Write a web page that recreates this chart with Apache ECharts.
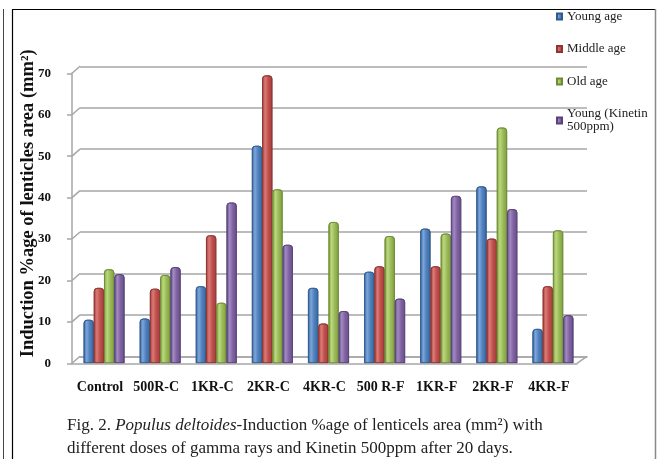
<!DOCTYPE html>
<html>
<head>
<meta charset="utf-8">
<script src="https://cdn.jsdelivr.net/npm/echarts@6/dist/echarts.min.js"></script>
<style>
html,body{margin:0;padding:0;background:#fff;}
#chart{width:658px;height:459px;}
</style>
</head>
<body>
<div id="chart"></div>
<script>
const categories = ['Control', '500R-C', '1KR-C', '2KR-C', '4KR-C', '500 R-F', '1KR-F', '2KR-F', '4KR-F'];
const seriesNames = ['Young age', 'Middle age', 'Old age', 'Young (Kinetin 500ppm)'];
const youngAge     = [10.5, 10.8, 18.6, 52.5, 18.2, 22.1, 32.5, 42.7, 8.3];
const middleAge    = [18.2, 18.0, 30.9, 69.5, 9.6, 23.4, 23.4, 30.1, 18.6];
const oldAge       = [22.7, 21.3, 14.6, 42.0, 34.1, 30.7, 31.3, 56.9, 32.1];
const youngKinetin = [21.5, 23.2, 38.8, 28.6, 12.6, 15.6, 40.4, 37.2, 11.6];
const yTickValues  = [0, 10, 20, 30, 40, 50, 60, 70];

const serif = '"Liberation Serif", "DejaVu Serif", serif';
const palette = [
  {base: '#4F81BD', light: '#7DA5DA', dark: '#3A679E', edge: '#2F5A8E'},
  {base: '#C0504D', light: '#DB7A76', dark: '#A03D3A', edge: '#8E3431'},
  {base: '#9BBB59', light: '#BCD87E', dark: '#7E9E40', edge: '#6E8C36'},
  {base: '#8064A2', light: '#A189C2', dark: '#664D88', edge: '#584279'}
];
const allData = [youngAge, middleAge, oldAge, youngKinetin];

const chart = echarts.init(document.getElementById('chart'), null, {renderer: 'canvas'});

const grids = [
  {left: 72, right: 81, top: 73.3, bottom: 95.7},   // front plane
  {left: 80, right: 71, top: 66.3, bottom: 102.7},  // back wall
  {left: 76, right: 77, top: 73.3, bottom: 95.7}    // bars (mid depth)
];

const option = {
  backgroundColor: '#ffffff',
  animation: false,
  title: {
    left: 67, top: 414, padding: 0,
    text: '{n|Fig. 2. }{i|Populus deltoides}{n|-Induction %age of lenticels area (mm²) with}\n{n|different doses of gamma rays and Kinetin 500ppm after 20 days.}',
    textStyle: {
      fontWeight: 'normal',
      rich: {
        n: {fontFamily: serif, fontSize: 17, fontWeight: 'normal', color: '#222', lineHeight: 23},
        i: {fontFamily: serif, fontSize: 17, fontWeight: 'normal', fontStyle: 'italic', color: '#222', lineHeight: 23}
      }
    }
  },
  legend: {
    orient: 'vertical',
    left: 551, top: 5,
    itemWidth: 5, itemHeight: 6,
    itemGap: 19.5,
    icon: 'rect',
    textStyle: {fontFamily: serif, fontSize: 13, color: '#222'},
    data: [
      {name: seriesNames[0]},
      {name: seriesNames[1]},
      {name: seriesNames[2]},
      {name: seriesNames[3], textStyle: {padding: [20, 0, 0, 0]}}
    ],
    formatter: function (name) {
      return name === seriesNames[3] ? 'Young (Kinetin\n500ppm)' : name;
    }
  },
  grid: grids,
  xAxis: [
    {
      type: 'category', gridIndex: 0, data: categories, z: 10,
      axisLine: {show: true, lineStyle: {color: '#a6a6a6', width: 1.5}},
      axisTick: {show: false},
      axisLabel: {fontFamily: serif, fontSize: 14, fontWeight: 'bold', color: '#111', margin: 17, interval: 0},
      splitLine: {show: false}
    },
    {
      type: 'category', gridIndex: 1, data: categories,
      axisLine: {show: true, lineStyle: {color: '#a6a6a6', width: 1.5}},
      axisTick: {show: false}, axisLabel: {show: false}, splitLine: {show: false}
    },
    {
      type: 'category', gridIndex: 2, data: categories, show: false
    }
  ],
  yAxis: [
    {
      type: 'value', gridIndex: 0, min: 0, max: 70, interval: 10, z: 10,
      name: 'Induction %age of lenticles area (mm²)',
      nameLocation: 'middle', nameGap: 34.5, nameRotate: 90,
      nameMoveOverlap: false,
      nameTextStyle: {fontFamily: serif, fontSize: 18.5, fontWeight: 'bold', color: '#111', padding: [0, 0, 0, 30]},
      axisLine: {show: true, lineStyle: {color: '#a6a6a6', width: 1.5}},
      axisTick: {show: true, length: 5, lineStyle: {color: '#a6a6a6', width: 1.5}},
      axisLabel: {fontFamily: serif, fontSize: 13, fontWeight: 'bold', color: '#111', margin: 21},
      splitLine: {show: false}
    },
    {
      type: 'value', gridIndex: 1, min: 0, max: 70, interval: 10,
      axisLine: {show: false}, axisTick: {show: false}, axisLabel: {show: false},
      splitLine: {show: true, lineStyle: {color: '#a6a6a6', width: 1.6}}
    },
    {
      type: 'value', gridIndex: 2, min: 0, max: 70, interval: 10, show: false,
      splitLine: {show: false}
    }
  ],
  series: allData.map(function (data, i) {
    const c = palette[i];
    return {
      name: seriesNames[i],
      type: 'bar',
      xAxisIndex: 2, yAxisIndex: 2,
      data: data,
      barGap: '0%',
      barCategoryGap: '27%',
      z: 5,
      itemStyle: {
        color: new echarts.graphic.LinearGradient(0, 0, 1, 0, [
          {offset: 0, color: c.dark},
          {offset: 0.3, color: c.light},
          {offset: 0.6, color: c.base},
          {offset: 1, color: c.dark}
        ]),
        borderColor: c.edge,
        borderWidth: 0.8,
        borderRadius: [3, 3, 0, 0]
      },
      emphasis: {disabled: true}
    };
  })
};
option.color = palette.map(p => p.base);

chart.setOption(option);

// 3D wall / floor connector lines computed from the axes' own scales
const gfx = [];
const frontL = grids[0].left, backL = grids[1].left;
const frontR = 658 - grids[0].right, backR = 658 - grids[1].right;
yTickValues.forEach(function (v) {
  const yf = chart.convertToPixel({yAxisIndex: 0}, v);
  const yb = chart.convertToPixel({yAxisIndex: 1}, v);
  gfx.push({type: 'line', z: 1, shape: {x1: frontL, y1: yf, x2: backL, y2: yb},
            style: {stroke: '#a6a6a6', lineWidth: 1.5}});
});
const yf0 = chart.convertToPixel({yAxisIndex: 0}, 0);
const yb0 = chart.convertToPixel({yAxisIndex: 1}, 0);
gfx.push({type: 'line', z: 1, shape: {x1: frontR, y1: yf0, x2: backR, y2: yb0},
          style: {stroke: '#a6a6a6', lineWidth: 1.5}});
// page frame lines
gfx.push({type: 'line', z: 20, shape: {x1: 3.5, y1: 9, x2: 3.5, y2: 459}, style: {stroke: '#444', lineWidth: 1}});
gfx.push({type: 'line', z: 20, shape: {x1: 12.5, y1: 9.5, x2: 12.5, y2: 459}, style: {stroke: '#000', lineWidth: 1.2}});
gfx.push({type: 'line', z: 20, shape: {x1: 12, y1: 9.5, x2: 655, y2: 9.5}, style: {stroke: '#000', lineWidth: 1.2}});
gfx.push({type: 'line', z: 20, shape: {x1: 655.5, y1: 9, x2: 655.5, y2: 459}, style: {stroke: '#888', lineWidth: 1.5}});
chart.setOption({graphic: gfx});
</script>
</body>
</html>
